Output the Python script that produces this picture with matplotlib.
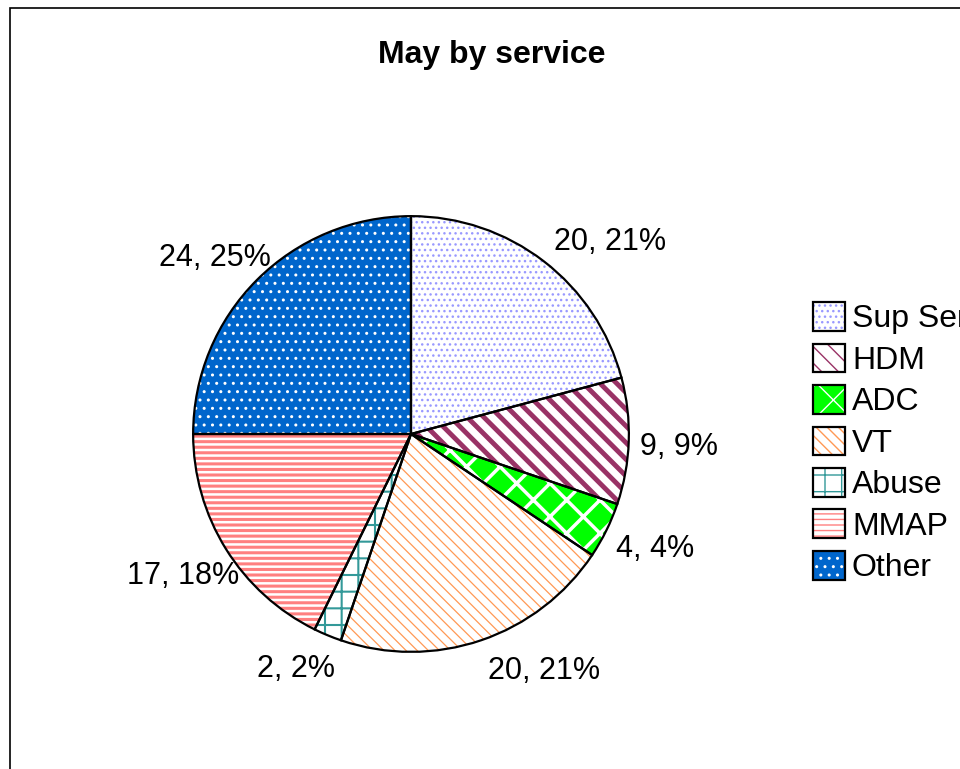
import numpy as np
import matplotlib
matplotlib.use('Agg')
import matplotlib.pyplot as plt
from matplotlib.patches import Patch, Rectangle

plt.rcParams['font.family'] = ['Liberation Sans', 'DejaVu Sans']

services = ['Sup Ser', 'HDM', 'ADC', 'VT', 'Abuse', 'MMAP', 'Other']
counts = [20, 9, 4, 20, 2, 17, 24]
pcts = [21, 9, 4, 21, 2, 18, 25]

faces = ['white', 'white', '#00ff00', 'white', 'white', 'white', '#0066cc']
hcols = ['#9999ff', '#993366', 'white', '#ff9955', '#339999', '#ff8080', 'white']
hatches = ['...', '\\\\', 'x', '\\\\\\', '+', '---', '..']
hwidths = [1.0, 3.5, 2.5, 0.9, 1.5, 2.2, 1.0]

# label placement tweaks (angle shift in deg, radius as fraction of R)
lab_shift = [-8.5, -1, 1, 10.6, -3.5, 0, 3]
lab_rad = [1.27, 1.23, 1.24, 1.25, 1.2, 1.23, 1.21]


def style(p, i):
    p.set_facecolor(faces[i])
    p.set_edgecolor(hcols[i])
    p.set_linewidth(0)
    p.set_hatch(hatches[i])
    if hasattr(p, 'set_hatch_linewidth'):
        p.set_hatch_linewidth(hwidths[i])
    else:
        p._hatch_linewidth = hwidths[i]


fig = plt.figure(figsize=(9.6, 7.69), dpi=100)
fig.patches.append(Rectangle((10 / 960, -0.1), 1.2, 1.1 - 8 / 769,
                             transform=fig.transFigure, fill=False,
                             edgecolor='black', linewidth=1.2))

ax = fig.add_axes([106 / 960, 30 / 769, 610 / 960, 610 / 769])
wedges, _ = ax.pie(counts, startangle=90, counterclock=False)
for i, w in enumerate(wedges):
    style(w, i)
    mid = np.deg2rad(0.5 * (w.theta1 + w.theta2) + lab_shift[i])
    ax.text(lab_rad[i] * np.cos(mid), lab_rad[i] * np.sin(mid),
            '%d, %d%%' % (counts[i], pcts[i]), ha='center', va='center',
            fontsize=22)

# black outlines on top
ax.pie(counts, startangle=90, counterclock=False,
       wedgeprops={'fill': False, 'edgecolor': 'black', 'linewidth': 1.6})
ax.set_xlim(-1.4, 1.4)
ax.set_ylim(-1.4, 1.4)
ax.set_aspect('equal')

fig.text(492 / 960, 1 - 55 / 769, 'May by service', ha='center',
         va='center', fontsize=23, fontweight='bold')

handles = []
for i in range(len(services)):
    p = Patch()
    style(p, i)
    o = Patch(fill=False, edgecolor='black', linewidth=1.6)
    handles.append((p, o))
fig.legend(handles, services, loc='upper left',
           bbox_to_anchor=(813 / 960, 1 - 302 / 769), frameon=False,
           fontsize=23, borderpad=0, borderaxespad=0, handlelength=1.0,
           handleheight=1.0, handletextpad=0.22, labelspacing=0.29)

plt.savefig('out.png', dpi=100)
